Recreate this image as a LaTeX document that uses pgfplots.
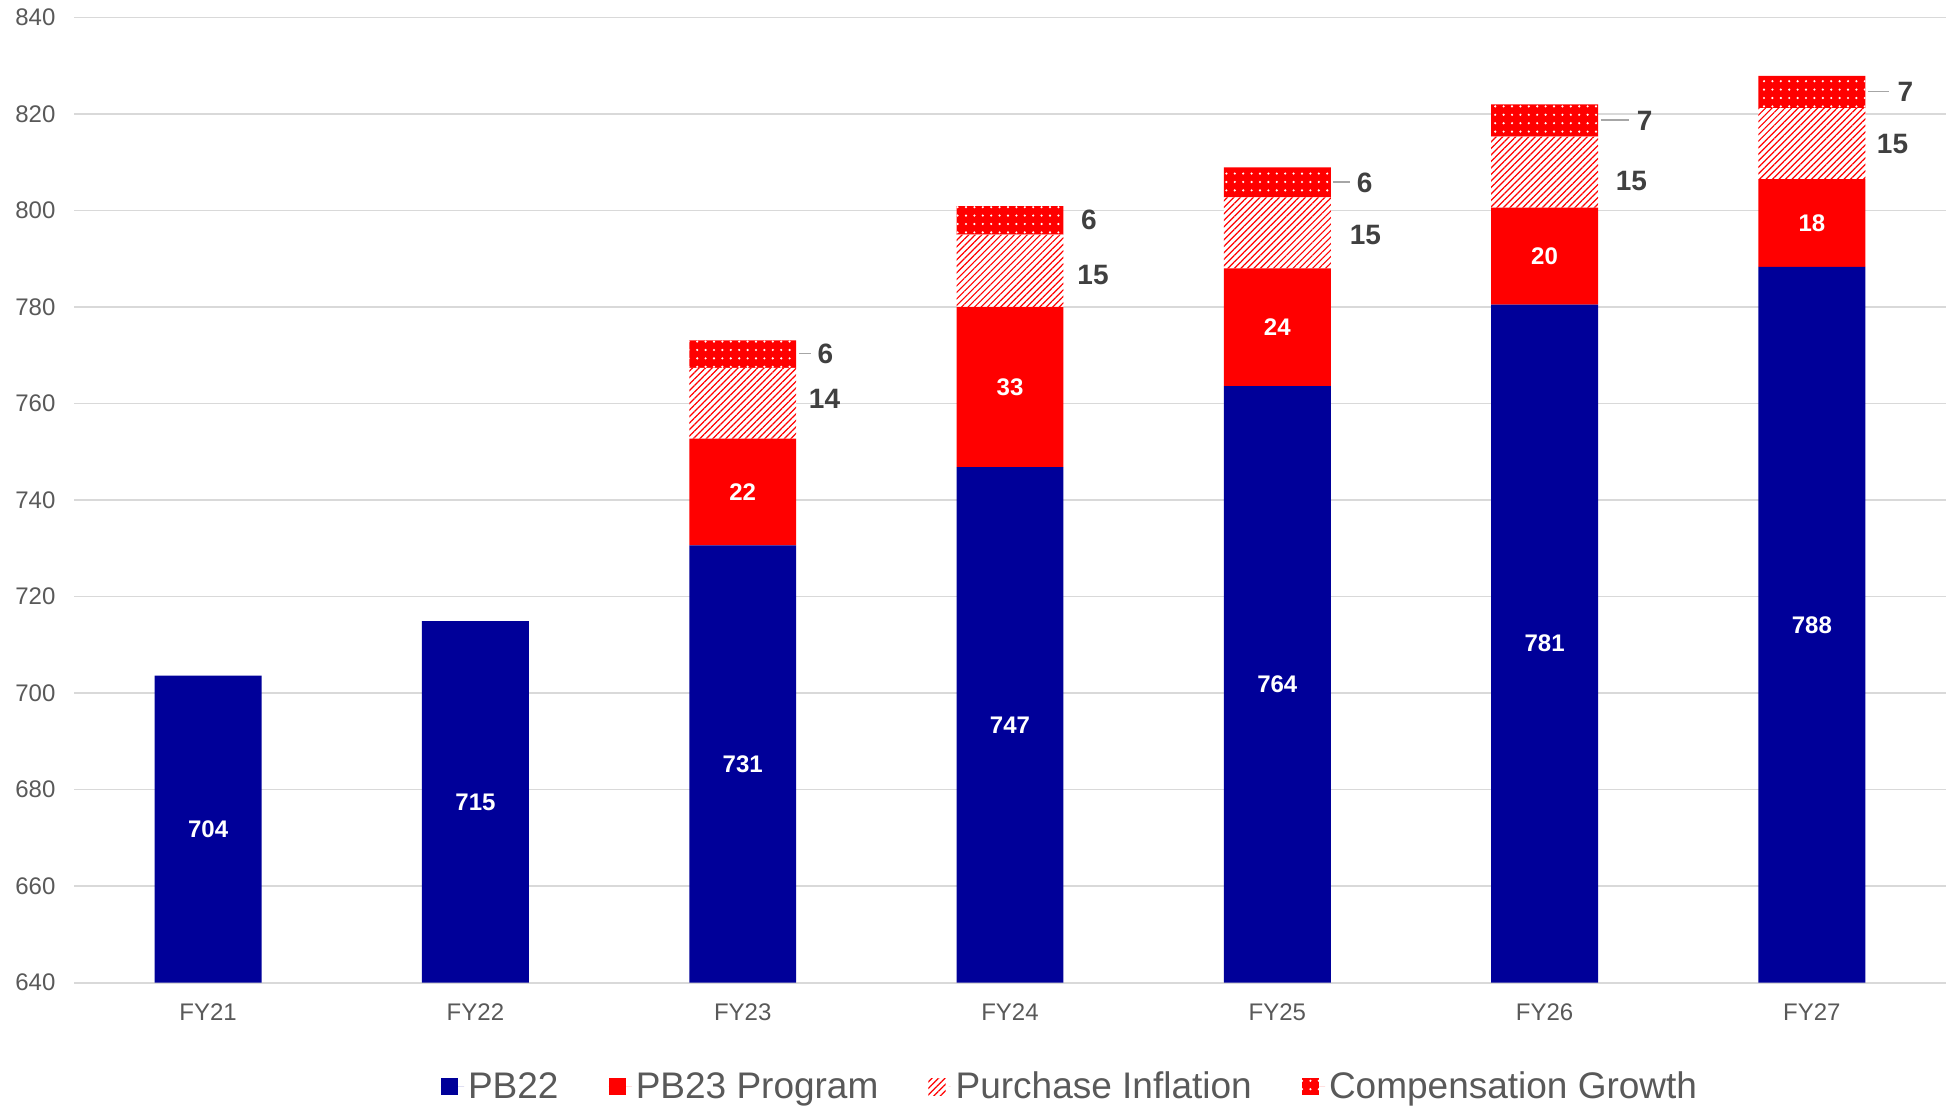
\documentclass[border=0pt]{standalone}
\usepackage{pgfplots}
\pgfplotsset{compat=1.18}
\usepackage{pgfplotstable}
\usetikzlibrary{patterns.meta}
\usepackage{fontspec}
\setmainfont{Liberation Sans}
\definecolor{navy}{RGB}{0,0,153}
\definecolor{tickc}{RGB}{89,89,89}
\definecolor{gridc}{RGB}{217,217,217}
\definecolor{labc}{RGB}{64,64,64}
\definecolor{leadc}{RGB}{166,166,166}

\pgfplotsset{mylegend/.style={legend image code/.code={\draw[##1, draw=none] (0pt,-4.3pt) rectangle (8.6pt,4.3pt);\path (0pt,0pt) -- (11.6pt,0pt);}}}

% values, label texts and label offsets (pt)
\pgfplotstableread{
x  pb    pbl  pp    ppl  pi    pil  piy   pig  cg   cgl  cgg  cglen
0  703.6 704  0     {}   0     {}   0     0    0    {}   0    0
1  714.9 715  0     {}   0     {}   0     0    0    {}   0    0
2  730.6 731  22.1  22   14.7  14   2.2   6.2  5.7  6    3.1  6.2
3  746.8 747  33.2  33   15.0  15   -1.9  6.8  5.9  6    7.5  0
4  763.6 764  24.4  24   14.7  15   -1.0  9.3  6.2  6    3.7  8.0
5  780.5 781  20.1  20   14.7  15   -4.7  8.7  6.7  7    3.7  14.3
6  788.3 788  18.2  18   14.7  15   0     5.6  6.7  7    4.3  10.5
}\data

\begin{document}
\begin{tikzpicture}
\useasboundingbox (-37.25pt,-61.65pt) rectangle (936.75pt,491.35pt);
\begin{axis}[
  at={(0pt,0pt)}, anchor=south west,
  scale only axis, width=935.5pt, height=482.65pt,
  ybar stacked, bar width=0.4,
  xmin=-0.5, xmax=6.5, ymin=640, ymax=840,
  xtick={0,...,6}, xticklabels={FY21,FY22,FY23,FY24,FY25,FY26,FY27},
  ytick={640,660,...,840},
  axis x line*=bottom, axis y line*=left,
  x axis line style={draw=gridc, line width=1pt, -},
  y axis line style={draw=none},
  major tick length=0pt, tick style={draw=none},
  ymajorgrids, grid style={draw=gridc, line width=0.8pt},
  /pgf/number format/assume math mode=true,
  ticklabel style={font=\fontsize{12}{14}\selectfont, text=tickc},
  yticklabel style={xshift=-6pt},
  xticklabel style={yshift=-7pt},
  legend columns=4,
  legend cell align=left,
  legend style={at={(0.5326,-0.1077)}, anchor=center, draw=none, fill=none,
    font=\fontsize{18.5}{20}\selectfont, text=tickc,
    /tikz/every even column/.append style={column sep=23pt}},
]
\addplot[fill=navy, draw=none, mylegend, point meta=explicit symbolic,
  nodes near coords,
  every node near coord/.append style={anchor=center, text=white,
    font=\bfseries\fontsize{12}{14}\selectfont, yshift=772.24pt}]
  table[x=x, y=pb, meta=pbl] {\data};
\addlegendentry{PB22}
\addplot[fill=red, draw=none, mylegend, point meta=explicit symbolic,
  nodes near coords,
  every node near coord/.append style={anchor=center, text=white,
    font=\bfseries\fontsize{12}{14}\selectfont}]
  table[x=x, y=pp, meta=ppl] {\data};
\addlegendentry{PB23 Program}
\addplot[fill=white, draw=none,
  postaction={pattern={Lines[angle=45,distance=2.3pt,line width=0.6pt]}, pattern color=red},
  mylegend, point meta=explicit symbolic, nodes near coords,
  visualization depends on={\thisrow{piy} \as \ey},
  visualization depends on={\thisrow{pig} \as \gx},
  every node near coord/.append style={anchor=west, inner sep=0pt, text=labc,
    font=\bfseries\fontsize{14}{16}\selectfont, xshift={26.73pt+(\gx)*1pt},
    yshift={(\ey)*1pt}}]
  table[x=x, y=pi, meta=pil] {\data};
\addlegendentry{Purchase Inflation}
\addplot[fill=red, draw=none,
  postaction={pattern={Dots[distance=4.2pt,radius=0.6pt]}, pattern color=white},
  mylegend, point meta=explicit symbolic,
  visualization depends on={\thisrow{cgg} \as \gx},
  visualization depends on={\thisrow{cglen} \as \leadlen},
  nodes near coords={\textcolor{leadc}{\rule[0.33em]{\leadlen pt}{0.8pt}}\hspace{\gx pt}\pgfplotspointmeta},
  every node near coord/.append style={anchor=west, inner sep=0pt, text=labc,
    font=\bfseries\fontsize{14}{16}\selectfont, xshift=27.9pt}]
  table[x=x, y=cg, meta=cgl] {\data};
\addlegendentry{Compensation Growth}
\end{axis}
\end{tikzpicture}
\end{document}
